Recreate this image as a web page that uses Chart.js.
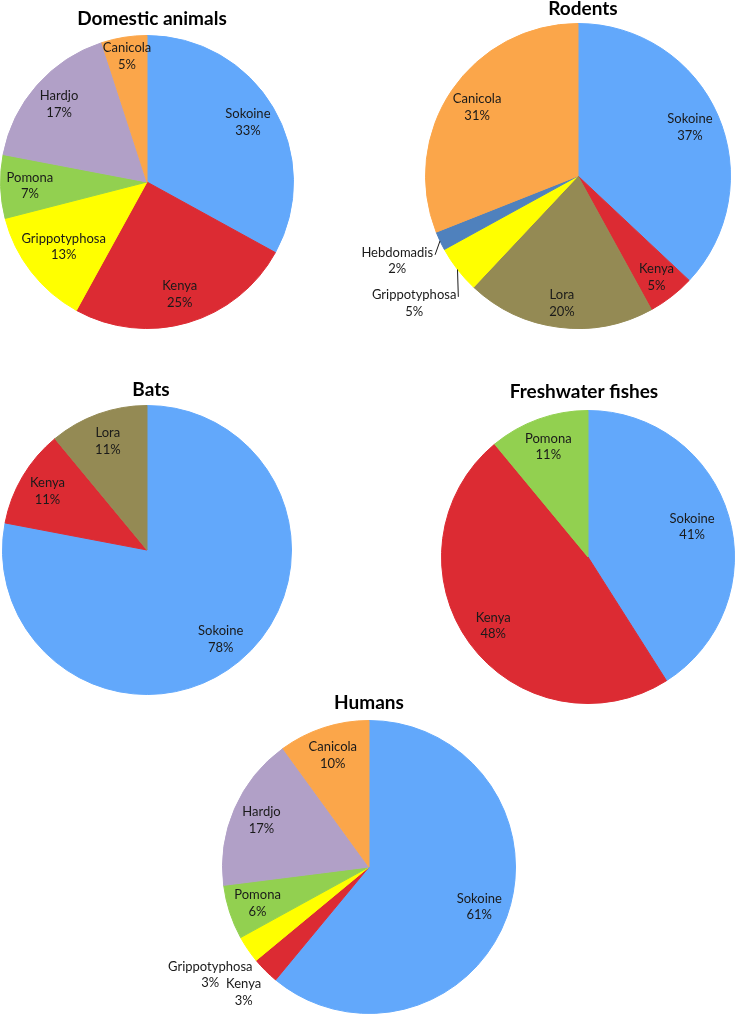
<!DOCTYPE html>
<html>
<head>
<meta charset="utf-8">
<script src="https://cdn.jsdelivr.net/npm/chart.js@4.4.1/dist/chart.umd.min.js"></script>
<style>
  body { margin: 0; background: #fff; }
  #page { position: relative; width: 735px; height: 1015px; overflow: hidden; }
  #page canvas { position: absolute; }
</style>
</head>
<body>
<div id="page">
  <canvas id="chartDomestic"></canvas>
  <canvas id="chartRodents"></canvas>
  <canvas id="chartBats"></canvas>
  <canvas id="chartFish"></canvas>
  <canvas id="chartHumans"></canvas>
</div>
<script>
// data per host group (percent of positives per serovar)
const domesticLabels = ['Sokoine', 'Kenya', 'Grippotyphosa', 'Pomona', 'Hardjo', 'Canicola'];
const domesticValues = [33, 25, 13, 7, 17, 5];

const rodentLabels = ['Sokoine', 'Kenya', 'Lora', 'Grippotyphosa', 'Hebdomadis', 'Canicola'];
const rodentValues = [37, 5, 20, 5, 2, 31];

const batLabels = ['Sokoine', 'Kenya', 'Lora'];
const batValues = [78, 11, 11];

const fishLabels = ['Sokoine', 'Kenya', 'Pomona'];
const fishValues = [41, 48, 11];

const humanLabels = ['Sokoine', 'Kenya', 'Grippotyphosa', 'Pomona', 'Hardjo', 'Canicola'];
const humanValues = [61, 3, 3, 6, 17, 10];

// warna per serovar, sama di semua pie
const serovarColors = {
    Sokoine: '#62A8FB',
    Kenya: '#DC2B33',
    Grippotyphosa: '#FFFF00',
    Pomona: '#92D050',
    Hardjo: '#B1A0C7',
    Canicola: '#FBA64A',
    Lora: '#948A54',
    Hebdomadis: '#4F81BD'
};

const FONT = 'Lato, "Open Sans", sans-serif';

// label di dalam/luar slice + judul, digambar sendiri (tanpa plugin datalabels)
const sliceLabels = {
    id: 'sliceLabels',
    afterDatasetsDraw(chart, args, opts) {
        const ctx = chart.ctx;
        const meta = chart.getDatasetMeta(0);
        const values = chart.data.datasets[0].data;
        const total = values.reduce((a, b) => a + b, 0);
        const lh = 16.5;

        ctx.save();
        ctx.fillStyle = '#1a1a1a';
        ctx.strokeStyle = '#1a1a1a';
        ctx.lineWidth = 1;
        ctx.textAlign = 'center';
        ctx.textBaseline = 'middle';

        let pieX = 0, pieTop = 0;
        meta.data.forEach((arc, i) => {
            const p = arc.getProps(['x', 'y', 'startAngle', 'endAngle', 'outerRadius'], true);
            pieX = p.x; pieTop = p.y - p.outerRadius;
            const mid = (p.startAngle + p.endAngle) / 2;
            const name = chart.data.labels[i];
            const pct = Math.round(values[i] / total * 100) + '%';
            const outside = opts.outside[name];
            const f = outside || opts.inside[name] || 0.8;
            const tx = p.x + Math.cos(mid) * p.outerRadius * f;
            const ty = p.y + Math.sin(mid) * p.outerRadius * f;

            ctx.font = '13px ' + FONT;
            ctx.fillText(name, tx, ty - lh / 2);
            ctx.fillText(pct, tx, ty + lh / 2);

            if (outside && opts.leader) {
                // garis penunjuk dari ujung teks ke tepi slice
                const w = ctx.measureText(name).width;
                const ex = p.x + Math.cos(mid) * p.outerRadius;
                const ey = p.y + Math.sin(mid) * p.outerRadius;
                ctx.beginPath();
                ctx.moveTo(tx + w / 2 + 2, ty - lh / 2 + 2);
                ctx.lineTo(ex, ey);
                ctx.stroke();
            }
        });

        ctx.font = 'bold 19px ' + FONT;
        ctx.fillStyle = '#000';
        ctx.fillText(opts.title, pieX + opts.titleDx, pieTop - opts.titleGap);
        ctx.restore();
    }
};

function makePie(id, labels, values, pie, box, extra) {
    const el = document.getElementById(id);
    el.width = box.w;
    el.height = box.h;
    el.style.left = box.left + 'px';
    el.style.top = box.top + 'px';

    return new Chart(el.getContext('2d'), {
        type: 'pie',
        data: {
            labels: labels,
            datasets: [{
                data: values,
                backgroundColor: labels.map(l => serovarColors[l]),
                borderColor: labels.map(l => serovarColors[l]),
                borderWidth: 1
            }]
        },
        options: {
            responsive: false,
            animation: false,
            events: [],
            layout: {
                padding: {
                    left: pie.cx - pie.r - box.left,
                    top: pie.cy - pie.r - box.top,
                    right: box.left + box.w - (pie.cx + pie.r),
                    bottom: box.top + box.h - (pie.cy + pie.r)
                }
            },
            plugins: {
                legend: { display: false },
                tooltip: { enabled: false },
                sliceLabels: Object.assign({ inside: {}, outside: {}, leader: false }, extra)
            }
        },
        plugins: [sliceLabels]
    });
}

makePie('chartDomestic', domesticLabels, domesticValues,
    { cx: 147, cy: 182, r: 147 }, { left: 0, top: 0, w: 300, h: 340 },
    { title: 'Domestic animals', titleGap: 17, titleDx: 5,
      inside: { Canicola: 0.87, Grippotyphosa: 0.72 } });

makePie('chartRodents', rodentLabels, rodentValues,
    { cx: 578, cy: 176, r: 153 }, { left: 340, top: 0, w: 395, h: 340 },
    { title: 'Rodents', titleGap: 15, titleDx: 5,
      inside: { Kenya: 0.84, Lora: 0.84 },
      outside: { Hebdomadis: 1.31, Grippotyphosa: 1.36 }, leader: true });

makePie('chartBats', batLabels, batValues,
    { cx: 147, cy: 550, r: 145 }, { left: 0, top: 345, w: 300, h: 355 },
    { title: 'Bats', titleGap: 16, titleDx: 4 });

makePie('chartFish', fishLabels, fishValues,
    { cx: 588, cy: 557, r: 147 }, { left: 420, top: 345, w: 315, h: 365 },
    { title: 'Freshwater fishes', titleGap: 19, titleDx: -4,
      inside: { Sokoine: 0.74 } });

makePie('chartHumans', humanLabels, humanValues,
    { cx: 369, cy: 867, r: 147 }, { left: 140, top: 680, w: 400, h: 335 },
    { title: 'Humans', titleGap: 18, titleDx: 0,
      outside: { Grippotyphosa: 1.31, Kenya: 1.21 } });
</script>
</body>
</html>
